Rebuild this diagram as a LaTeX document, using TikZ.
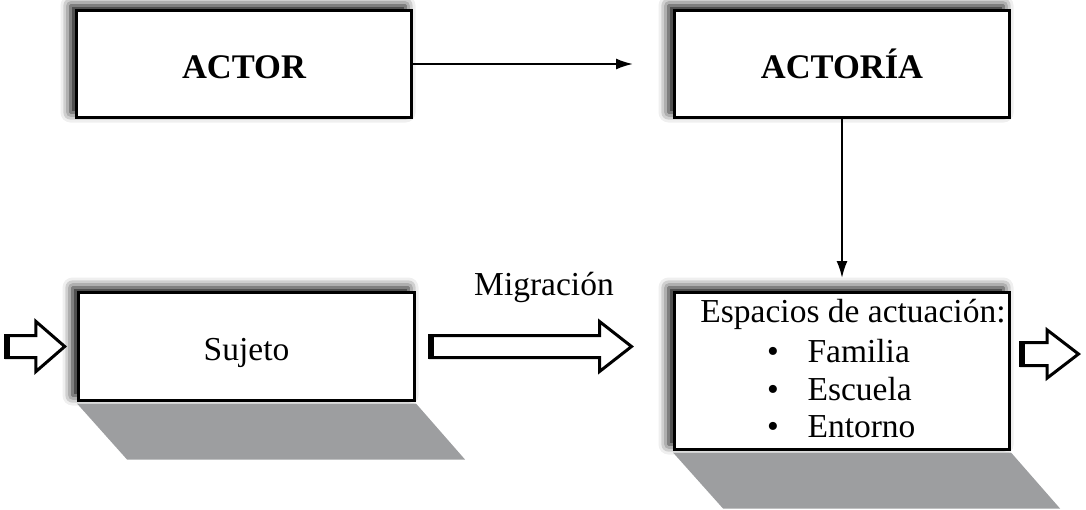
\documentclass[tikz,border=0pt]{standalone}
\usepackage{fontspec}
\setmainfont{Liberation Serif}
\usetikzlibrary{positioning,shapes.arrows,shadows.blur,arrows.meta}
\definecolor{floorgray}{RGB}{157,158,160}
\begin{document}
\begin{tikzpicture}[x=1pt,y=-1pt,font=\fontsize{33.5}{38}\selectfont,
  box/.style={draw,line width=3pt,fill=white,inner sep=0pt,minimum width=335pt,minimum height=107pt,
    blur shadow={shadow xshift=-6pt,shadow yshift=5pt,shadow blur radius=10pt,shadow opacity=100}},
  onetext/.style={text height=28pt,text depth=0pt},
  link/.style={line width=2pt,-{Latex[length=17pt,width=11pt]}},
  hollow/.style={single arrow,draw,line width=3pt,fill=white,inner xsep=0pt,inner ysep=9.5pt,single arrow head indent=0pt},
  floor/.style={fill=floorgray}]
\useasboundingbox (0,0) rectangle (1086,509);
\node[box,onetext,font=\fontsize{34.5}{38}\selectfont\bfseries] (actor) at (244,64) {ACTOR};
\node[box,onetext,font=\fontsize{34.5}{38}\selectfont\bfseries] (actoria) at (842,64) {ACTORÍA};
\node[box,onetext,minimum width=336pt,minimum height=108pt] (sujeto) at (246.5,346.5) {Sujeto};
\node[box,minimum height=157pt] (espacios) at (842,371) {};
% suelo gris
\fill[floor] ([yshift=-1.5pt]sujeto.south west) -- ([yshift=-1.5pt]sujeto.south east) -- ++(49,56) -- ++(-338,0) -- cycle;
\fill[floor] ([yshift=-1.5pt]espacios.south west) -- ([yshift=-1.5pt]espacios.south east) -- ++(49,56) -- ++(-337,0) -- cycle;
% texto de espacios
\node[anchor=base] (esptitle) at (853,322) {Espacios de actuación:};
\foreach \t/\y in {Familia/362,Escuela/400,Entorno/437}{
  \node[anchor=base] (b\t) at (773,\y) {\textbullet};
  \node[anchor=base west] (\t) at (804,\y) {\t};
}
\draw[link,shorten >=40pt] (actor) -- (actoria);
\draw[link,shorten >=13pt] (actoria) -- (espacios);
% flechas huecas
\node[hollow,minimum height=58pt,single arrow head extend=14pt,single arrow tip angle=82,left=10pt of sujeto] (entrada) {};
\node[hollow,minimum height=201pt,single arrow head extend=14pt,single arrow tip angle=76,right=13pt of sujeto] (mig) {};
\node[hollow,minimum height=57pt,inner ysep=10pt,single arrow head extend=12.5pt,single arrow tip angle=75,right=9pt of espacios,yshift=17pt] (salida) {};
\foreach \a in {entrada,mig,salida}{
  \draw[line width=6pt] ([xshift=1.5pt]\a.before tail) -- ([xshift=1.5pt]\a.after tail);
}
\node[anchor=base] (miglabel) at (544,295) {Migración};
\end{tikzpicture}
\end{document}
